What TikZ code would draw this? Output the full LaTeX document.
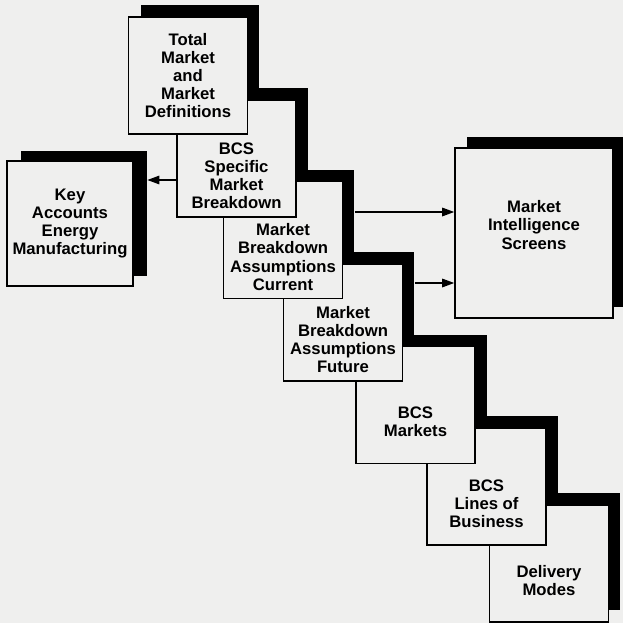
\documentclass[tikz,border=0pt]{standalone}
\usepackage{fontspec}
\usetikzlibrary{arrows.meta}
\usetikzlibrary{backgrounds}
\newfontfamily\chartfont{Liberation Sans}
\definecolor{paper}{RGB}{239,239,238}
\pgfdeclarelayer{shadows}
\pgfsetlayers{background,shadows,main}
\def\myboxw{2.38cm}
\def\myboxh{2.34cm}
\tikzset{
semithick, % all lines semithick
>={Triangle[length=2.4mm,width=1.7mm]},
box text/.style={align=center,inner sep=0pt,
  font=\chartfont\bfseries\fontsize{9.5}{10.3}\selectfont},
stepbox/.style={draw,fill=paper,line width=0.9pt,inner sep=0pt,
  minimum width=\myboxw,minimum height=\myboxh},
shadowbox/.style={fill=black,inner sep=0pt,
  minimum width=\myboxw,minimum height=\myboxh},
side/.style={minimum width=2.52cm,minimum height=2.5cm},
screen/.style={minimum width=3.16cm,minimum height=3.4cm},
link/.style={->,line width=0.8pt}
}

\begin{document}
\begin{tikzpicture}[x=0.02cm,y=-0.02cm]
\begin{scope}[on background layer]
  \fill[paper] (0,0) rectangle (623,623);
\end{scope}
\useasboundingbox (0,0) rectangle (623,623);
% staircase, bottom box first so the upper ones lie on top
\foreach \n/\x/\y/\dy/\txt in {
  7/549/563.5/17/{Delivery\\Modes},
  6/486.5/486.5/17/{BCS\\Lines of\\Business},
  5/415.5/405/17/{BCS\\Markets},
  4/343/322.5/17/{Market\\Breakdown\\Assumptions\\Future},
  3/283/240/17/{Market\\Breakdown\\Assumptions\\Current},
  2/236.5/158.5/17/{BCS\\Specific\\Market\\Breakdown},
  1/188/75.5/0/{Total\\Market\\and\\Market\\Definitions}}{
  \begin{pgfonlayer}{shadows}
    \node[shadowbox] (s\n) at (\x+12,\y-12) {};
  \end{pgfonlayer}
  \node[stepbox] (b\n) at (\x,\y) {};
  \node[box text] (t\n) at (\x,\y+\dy) {\txt};
}
% side boxes
\begin{pgfonlayer}{shadows}
  \node[shadowbox,side] (ks) at (84,213.5) {};
  \node[shadowbox,screen] (ms) at (546,222) {};
\end{pgfonlayer}
\node[stepbox,side] (k) at (70,223.5) {};
\node[box text] (kt) at (k) {Key\\Accounts\\Energy\\Manufacturing};
\node[stepbox,screen] (m) at (534,233) {};
\node[box text] (mt) at (534,225) {Market\\Intelligence\\Screens};
% links
\coordinate (a1) at (b2.west |- 0,180);
\coordinate (a2) at (s3.east |- 0,212);
\coordinate (a3) at (s4.east |- 0,283);
\draw[link] (a1) -- (a1 -| ks.east);
\draw[link] (a2) -- (a2 -| m.west);
\draw[link] (a3) -- (a3 -| m.west);
\end{tikzpicture}
\end{document}
